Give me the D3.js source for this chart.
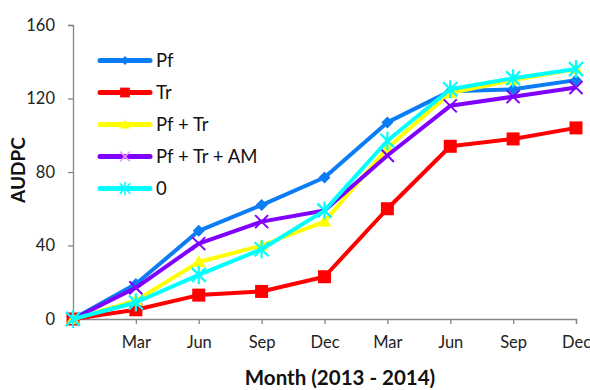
<!DOCTYPE html>
<html>
<head>
<meta charset="utf-8">
<script src="https://cdn.jsdelivr.net/npm/d3@7"></script>
<style>
  html, body { margin: 0; padding: 0; background: #fff; }
  svg { display: block; font-family: Lato, "Open Sans", sans-serif; }
</style>
</head>
<body>
<div id="chart"></div>
<script>
// AUDPC over the sampling months, one series per treatment
const months = ["", "Mar", "Jun", "Sep", "Dec", "Mar", "Jun", "Sep", "Dec"];
const yTicks = [0, 40, 80, 120, 160];
const seriesNames = ["Pf", "Tr", "Pf + Tr", "Pf + Tr + AM", "0"];
const pf      = [0, 19, 48, 62, 77, 107, 124, 125, 130];
const tr      = [0, 5, 13, 15, 23, 60, 94, 98, 104];
const pfTr    = [0, 10, 31, 40, 53, 93, 123, 130, 136];
const pfTrAm  = [0, 17, 41, 53, 59, 89, 116, 121, 126];
const control = [0, 9, 24, 38, 59, 97, 125, 131, 136];
const colors  = ["#0A7CF5", "#FF0000", "#FFFF00", "#7F00FF", "#00FFFF"];
const markers = ["diamond", "square", "triangle", "cross", "asterisk"];

const W = 590, H = 390;
const margin = { left: 73, right: 14, top: 25, bottom: 71 };

const svg = d3.select("#chart").append("svg").attr("width", W).attr("height", H);

const x = d3.scalePoint().domain(d3.range(months.length))
  .range([margin.left, W - margin.right]);
const y = d3.scaleLinear().domain([0, 160]).range([H - margin.bottom, margin.top]);

// axes
const axisColor = "#868686";
const yAxis = svg.append("g").attr("transform", `translate(${margin.left},0)`)
  .call(d3.axisLeft(y).tickValues(yTicks).tickSize(5).tickPadding(13).tickFormat(d3.format("d")));
const xAxis = svg.append("g").attr("transform", `translate(0,${y(0)})`)
  .call(d3.axisBottom(x).tickSize(5).tickPadding(12).tickFormat(i => months[i]));
[yAxis, xAxis].forEach(g => {
  g.select(".domain").attr("stroke", axisColor).attr("stroke-width", 1.3);
  g.selectAll(".tick line").attr("stroke", axisColor).attr("stroke-width", 1.3);
  g.selectAll("text").attr("fill", "#222").style("font-size", "16.5px")
    .style("font-family", "Lato, 'Open Sans', sans-serif");
});
xAxis.select(".tick:first-of-type line").remove();

// axis titles
svg.append("text").attr("transform", `translate(25,170) rotate(-90)`)
  .attr("text-anchor", "middle").style("font-size", "19px").style("font-weight", "bold")
  .attr("fill", "#111").text("AUDPC");
svg.append("text").attr("x", 340).attr("y", 385)
  .attr("text-anchor", "middle").style("font-size", "20.5px").style("font-weight", "bold")
  .attr("fill", "#111").text("Month (2013 - 2014)");

// marker drawing; k scales the marker size
function drawMarker(g, type, color, cx, cy, k = 1) {
  if (type === "diamond") {
    const r = 6 * k;
    g.append("path").attr("d", `M${cx},${cy - r}L${cx + r},${cy}L${cx},${cy + r}L${cx - r},${cy}Z`)
      .attr("fill", color);
  } else if (type === "square") {
    const r = 6.5 * k;
    g.append("rect").attr("x", cx - r).attr("y", cy - r)
      .attr("width", 2 * r).attr("height", 2 * r).attr("fill", color);
  } else if (type === "triangle") {
    g.append("path").attr("d", d3.symbol(d3.symbolTriangle, 80 * k * k)())
      .attr("transform", `translate(${cx},${cy + 1})`).attr("fill", color);
  } else if (type === "cross") {
    const r = 6.5 * k;
    g.append("path").attr("d", `M${cx - r},${cy - r}L${cx + r},${cy + r}M${cx - r},${cy + r}L${cx + r},${cy - r}`)
      .attr("stroke", color).attr("stroke-width", 2 * k).attr("fill", "none");
  } else if (type === "asterisk") {
    const r = 7 * k;
    g.append("path").attr("d",
      `M${cx - r},${cy - r}L${cx + r},${cy + r}M${cx - r},${cy + r}L${cx + r},${cy - r}M${cx},${cy - r - 2 * k}L${cx},${cy + r + 2 * k}`)
      .attr("stroke", color).attr("stroke-width", 2.2 * k).attr("fill", "none");
  }
}

const allSeries = [pf, tr, pfTr, pfTrAm, control];
const line = d3.line().x((d, i) => x(i)).y(d => y(d));

allSeries.forEach((vals, s) => {
  const g = svg.append("g");
  g.append("path").datum(vals).attr("d", line)
    .attr("fill", "none").attr("stroke", colors[s]).attr("stroke-width", 4)
    .attr("stroke-linejoin", "round");
  vals.forEach((v, i) => drawMarker(g, markers[s], colors[s], x(i), y(v)));
});

// legend
const legend = svg.append("g");
seriesNames.forEach((name, s) => {
  const ly = 60.5 + s * 32;
  legend.append("line").attr("x1", 100).attr("x2", 150).attr("y1", ly).attr("y2", ly)
    .attr("stroke", colors[s]).attr("stroke-width", 5).attr("stroke-linecap", "round");
  drawMarker(legend, markers[s], s === 3 ? "#E89BFF" : colors[s], 125, ly, 0.75);
  legend.append("text").attr("x", 156).attr("y", ly + 6.5)
    .style("font-size", "18.5px").attr("fill", "#111").text(name);
});
</script>
</body>
</html>
